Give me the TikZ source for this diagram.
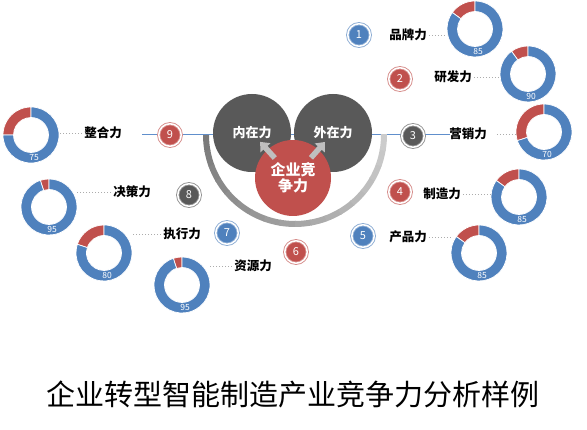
\documentclass[tikz,border=0pt]{standalone}
\usepackage{fontspec}
\setmainfont{Noto Sans CJK SC}
\usepackage{tikz}
\usetikzlibrary{arrows.meta,positioning,calc}
\definecolor{donutblue}{RGB}{79,129,189}
\definecolor{donutred}{RGB}{192,80,77}
\definecolor{hubgray}{RGB}{89,89,89}
\definecolor{pushgray}{RGB}{191,191,191}
\definecolor{railblue}{RGB}{96,143,204}

% donut chart: name, x, y, value
\newcommand\donut[4]{%
  \node[ringnode] (#1) at (#2,#3) {};
  \pgfmathsetmacro\redend{90+3.6*(100-#4)}
  \filldraw[donutred,draw=white,line width=0.7pt]
    ([shift={(90:28)}]#1.center) arc[start angle=90,end angle=\redend,radius=28]
    -- ([shift={(\redend:17.5)}]#1.center) arc[start angle=\redend,end angle=90,radius=17.5] -- cycle;
  \filldraw[donutblue,draw=white,line width=0.7pt]
    ([shift={(\redend:28)}]#1.center) arc[start angle=\redend,end angle=450,radius=28]
    -- ([shift={(90:17.5)}]#1.center) arc[start angle=450,end angle=\redend,radius=17.5] -- cycle;
  \node[valtxt] at ([shift={(-82:22.8)}]#1.center) {#4};
}

\begin{document}
\begin{tikzpicture}[
  x=1pt,y=1pt,
  >=Latex,
  hub/.style={circle,fill=hubgray,minimum size=78pt,inner sep=0pt,
              text=white,font=\bfseries\fontsize{13}{15}\selectfont},
  core/.style={circle,fill=donutred,minimum size=76pt,inner sep=0pt,
               align=center,text=white,font=\bfseries\fontsize{15}{18}\selectfont},
  push/.style={-{Triangle[width=13pt,length=8pt]},line width=5.5pt,pushgray,
               shorten <=27pt,shorten >=12pt},
  numdot/.style={circle,fill=#1,draw=#1!65,double=white,double distance=1.5pt,
                 line width=0.9pt,minimum size=22.5pt,inner sep=0pt,
                 text=white,font=\fontsize{11}{11}\selectfont},
  lbl/.style={font=\bfseries\fontsize{12.5}{14}\selectfont,inner sep=2pt},
  leader/.style={gray!65,line width=0.7pt,dash pattern=on 1.5pt off 1.5pt},
  ringnode/.style={circle,minimum size=56pt,inner sep=0pt},
  valtxt/.style={text=white,font=\fontsize{8.5}{9}\selectfont,inner sep=0pt},
  rail/.style={railblue,line width=1pt},
  title/.style={font=\fontsize{29}{31}\selectfont}
]
\useasboundingbox (0,0) rectangle (587,430);

%% ── blue rail behind the hubs ──
\coordinate (railL) at (142,295);
\coordinate (railR) at (450,295);
\draw[rail] (railL) -- (railR);

%% ── gray U-shaped band, darker on the left ──
\coordinate (arcc) at (295,295);
\foreach \a [evaluate=\a as \g using {52-34*(\a-180)/180}] in {180,190,...,350}
  \draw[line width=6pt,black!\g]
    ([shift={(\a:89)}]arcc) arc[start angle=\a,end angle=\a+10.6,radius=89];

%% ── hubs and core ──
\node[hub] (inner) at (252,297) {内在力};
\node[hub] (outer) at (333,297) {外在力};
\node[core] (core) at (293,252) {企业竞\\[-2pt]争力};
\draw[push] (core.center) -- (inner.center);
\draw[push] (core.center) -- (outer.center);

%% ── numbered dots ──
\node[numdot=donutblue] (n1) at (359,395) {1};
\node[numdot=donutred]  (n2) at (400,351) {2};
\node[numdot=hubgray]   (n3) at (413,294) {3};
\node[numdot=donutred]  (n4) at (400,238) {4};
\node[numdot=donutblue] (n5) at (363,194) {5};
\node[numdot=donutred]  (n6) at (296,178) {6};
\node[numdot=donutblue] (n7) at (227,197) {7};
\node[numdot=hubgray]   (n8) at (189,235) {8};
\node[numdot=donutred]  (n9) at (170,295) {9};

%% ── labels ──
\node[lbl] (l1) at (408,395) {品牌力};
\node[lbl] (l2) at (453,353) {研发力};
\node[lbl] (l3) at (468,296) {营销力};
\node[lbl] (l4) at (442,236) {制造力};
\node[lbl] (l5) at (408,193) {产品力};
\node[lbl] (l6) at (253,164) {资源力};
\node[lbl] (l7) at (182,196) {执行力};
\node[lbl] (l8) at (132,238) {决策力};
\node[lbl] (l9) at (103,297) {整合力};

%% ── donuts ──
\donut{d1}{475}{401}{85}
\donut{d2}{528}{356}{90}
\donut{d3}{544}{298}{70}
\donut{d4}{519}{233}{85}
\donut{d5}{479}{177}{85}
\donut{d6}{182}{145}{95}
\donut{d7}{104}{177}{80}
\donut{d8}{49}{223}{95}
\donut{d9}{31}{295}{75}

%% ── dotted leaders ──
\draw[leader] (l1.east) -- (l1.east -| d1.west);
\draw[leader] (l2.east) -- (l2.east -| d2.west);
\draw[leader] ([xshift=8pt]l3.east) -- (l3.east -| d3.west);
\draw[leader] (l4.east) -- (l4.east -| d4.west);
\draw[leader] (l5.east) -- (l5.east -| d5.west);
\draw[leader] (l6.west) -- (l6.west -| d6.east);
\draw[leader] (l7.west) -- (l7.west -| d7.east);
\draw[leader] (l8.west) -- (l8.west -| d8.east);
\draw[leader] (l9.west) -- (l9.west -| d9.east);

%% ── title ──
\node[title] (ttl) at (293,36) {企业转型智能制造产业竞争力分析样例};

\end{tikzpicture}
\end{document}
